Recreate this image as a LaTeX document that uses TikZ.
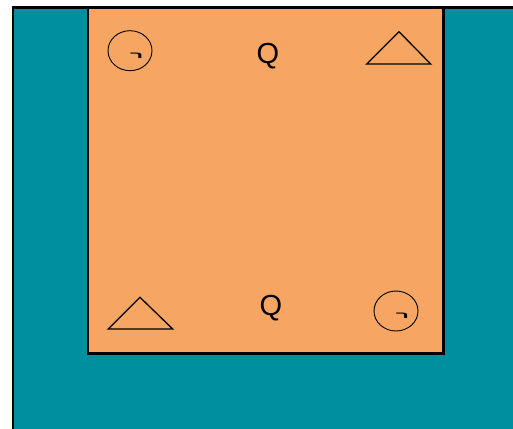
\documentclass[tikz,border=0pt]{standalone}
\usepackage{fontspec}
\setmainfont{Liberation Sans}
\newfontfamily\hebfont[Script=Hebrew]{Liberation Sans}
\TeXXeTstate=1
\definecolor{tealbg}{RGB}{0,143,158}
\definecolor{orangebg}{RGB}{247,165,99}

\begin{document}
\begin{tikzpicture}[x=1pt,y=-1pt,
	glyph/.style={font=\hebfont\bfseries\fontsize{12}{12}\selectfont, inner sep=0pt, xscale=1.9, yscale=0.75, transform shape},
	letter/.style={font=\fontsize{29}{29}\selectfont, inner sep=0pt}]

\useasboundingbox (0,0) rectangle (513,428);
\clip (0,0) rectangle (513,428);

% background
\fill[white] (0,0) rectangle (513,428);
\draw[fill=tealbg, line width=2.5pt] (13.2,7.3) rectangle (520,440);
\draw[fill=orangebg, line width=2.5pt] (88.2,7.3) rectangle (443.3,353.3);

% faces
\draw[line width=0.9pt] (130,50.7) ellipse [x radius=22, y radius=20];
\node[glyph] (glyphA) at (136.7,55.5) {\beginR ר\endR};
\draw[line width=0.9pt] (396,311) ellipse [x radius=22, y radius=20];
\node[glyph] (glyphB) at (402.5,316) {\beginR ר\endR};

% triangles
\draw[line width=1.3pt, line join=miter] (399,31.7) -- (366.7,64) -- (430.7,64) -- cycle;
\draw[line width=1.3pt, line join=miter] (140,297.3) -- (108.3,329) -- (172.7,329) -- cycle;

% labels
\node[letter] (qtop) at (268,56) {Q};
\node[letter] (qbot) at (271,308) {Q};

\end{tikzpicture}
\end{document}
